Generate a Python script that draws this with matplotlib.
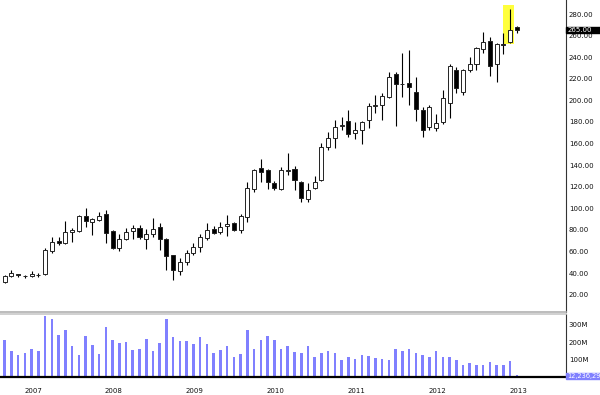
import matplotlib
matplotlib.use("Agg")
import matplotlib.pyplot as plt
import matplotlib.transforms as mtransforms
from matplotlib.patches import Rectangle
import pandas as pd

# monthly candles, Sep 2006 .. Jan 2013
months = pd.date_range("2006-09-01", periods=77, freq="MS")

opens = [31.5, 37.5, 39, 37, 37, 38.5, 39, 60, 69.5, 68,
         78, 78.5, 93, 87, 89.5, 94.5, 79, 63, 71.5, 78.5,
         81.5, 71.5, 76, 83, 71.5, 56.5, 42, 50.5, 58.5, 64,
         72.5, 80.5, 78, 84, 86, 80, 92, 118, 137, 135.5,
         123, 118, 134.5, 136.5, 124, 109, 118.5, 126, 156.5, 165,
         176, 181, 169.5, 173, 182, 195, 195.5, 203.5, 224, 215,
         216, 208, 191, 175, 174, 180, 197.5, 228, 208, 228,
         234, 247.6, 255, 234, 252, 254.5, 268]
highs = [38, 42.5, 39.5, 38, 42, 40, 63.5, 73, 73.7, 88.5,
         81.5, 93.5, 100, 91, 97, 98.5, 80, 76, 82, 84.5,
         84.5, 81, 90.7, 86, 72.5, 57, 53.7, 61.4, 67.6, 76,
         86, 83.6, 87.6, 93.8, 87.6, 94.7, 124.7, 136, 145.4, 136,
         125.3, 138.6, 151, 139.5, 125.3, 123, 130, 160.8, 171, 182,
         185, 191, 180, 181, 197.3, 205, 206.6, 226.6, 226.6, 243.6,
         246.7, 222, 194, 195.7, 187.3, 209.6, 233.4, 231, 229, 240.5,
         249.8, 263.7, 259, 253, 262, 284.4, 269]
lows = [30.5, 36.5, 36.5, 35.7, 36, 36.5, 38.5, 58.3, 66, 67,
        69, 78, 83, 75.5, 88.5, 68, 62.5, 60, 70.6, 71.5,
        72, 62.3, 73.7, 61.3, 42.8, 33.5, 38, 47.5, 56.7, 59.8,
        70.6, 76, 76, 74.6, 79, 77.4, 87.6, 115.4, 124.7, 117.6,
        117, 117, 131, 117, 105.6, 105.6, 117.6, 125.3, 154, 156,
        172.6, 166.4, 164, 160, 174.7, 188, 182, 202.5, 176.6, 203.4,
        195.7, 181, 166.4, 173, 171.6, 178.5, 183.4, 206.6, 205, 226,
        228, 243.6, 222.6, 217.3, 242.7, 253, 262.7]
closes = [37, 40.3, 38.3, 37.3, 39.5, 38, 61, 68.5, 67.6, 78,
          80, 93, 88.5, 90.5, 92.5, 77, 63.5, 71.3, 78, 81.5,
          73, 76, 81, 72, 56, 43, 50.5, 58.3, 64.4, 73.7,
          80, 77.5, 82.4, 85, 80, 93, 118.5, 135.5, 134, 124.7,
          118.5, 135.5, 135.5, 126.2, 109.3, 117, 124, 157, 165, 175,
          177, 168.6, 173, 180.3, 195, 196, 204, 222, 215, 215.5,
          212.5, 192, 172.6, 194, 179.3, 202, 232, 211, 228, 233.4,
          248.3, 253.8, 232, 252.3, 251, 265, 265]
volume_m = [213, 152, 126, 137, 164, 149, 350, 331, 244, 270,
            179, 129, 236, 183, 133, 289, 213, 198, 202, 156,
            160, 221, 152, 198, 335, 232, 209, 209, 190, 232,
            190, 141, 156, 179, 118, 133, 270, 164, 213, 236,
            213, 164, 179, 145, 137, 179, 118, 141, 149, 137,
            99, 118, 103, 126, 122, 110, 103, 99, 160, 149,
            164, 141, 129, 118, 152, 118, 118, 99, 72, 83,
            68, 68, 87, 72, 68, 91, 12.24]

price_ticks = list(range(20, 281, 20))
vol_ticks = [100, 200, 300]
last_price = 265.00
last_volume = "12,236,29"
highlight = len(opens) - 2  # Dec 2012 candle

fig = plt.figure(figsize=(6, 3.95), dpi=100)
ax = fig.add_axes([0, 0.2101, 0.9433, 0.7899])
axv = fig.add_axes([0, 0.0448, 0.9433, 0.1603])

x = list(range(len(opens)))
xlim = (-0.70, 83.28)
txt = "#111111"

# price panel
ax.add_patch(Rectangle((highlight - 1.0, 252), 1.6, 36.4, color="#ffff3c",
                       lw=0, zorder=1))
ax.vlines(x, lows, highs, color="black", lw=0.8, zorder=2)
bottoms = [min(o, c) for o, c in zip(opens, closes)]
heights = [max(abs(c - o), 0.5) for o, c in zip(opens, closes)]
faces = ["white" if c >= o else "black" for o, c in zip(opens, closes)]
ax.bar(x, heights, 0.6, bottom=bottoms, color=faces, edgecolor="#222222",
       lw=0.7, zorder=3)

ax.set_xlim(*xlim)
ax.set_ylim(3.9, 293)
ax.set_xticks([])
ax.yaxis.tick_right()
ax.set_yticks(price_ticks)
ax.set_yticklabels(["%.2f" % p for p in price_ticks])
ax.tick_params(axis="y", length=0, pad=2, labelsize=5, labelcolor=txt)
for s in ["left", "top"]:
    ax.spines[s].set_visible(False)
ax.spines["right"].set_color("#333333")
ax.spines["bottom"].set_color("#b0b0b0")
ax.spines["bottom"].set_linewidth(1.2)

# last price tag
tr = mtransforms.blended_transform_factory(ax.transAxes, ax.transData)
ax.add_patch(Rectangle((1.0, last_price - 2.8), 0.07, 5.6, transform=tr,
                       color="black", clip_on=False, zorder=5))
ax.text(1.003, last_price, "%.2f" % last_price, transform=tr, color="white",
        fontsize=5, va="center", ha="left", zorder=6, clip_on=False)

# volume panel
axv.bar(x, volume_m, 0.38, color="#8080ff", zorder=2)
axv.set_xlim(*xlim)
axv.set_ylim(0, 362)
axv.yaxis.tick_right()
axv.set_yticks(vol_ticks)
axv.set_yticklabels(["%dM" % v for v in vol_ticks])
axv.tick_params(axis="y", length=0, pad=2, labelsize=5, labelcolor=txt)
years = [(j, m.year) for j, m in enumerate(months) if m.month == 1]
axv.set_xticks([j + 0.2 for j, _ in years])
axv.set_xticklabels([str(y) for _, y in years])
axv.tick_params(axis="x", length=0, pad=8, labelsize=5, labelcolor=txt)
axv.spines["left"].set_visible(False)
axv.spines["top"].set_color("#c8c8c8")
axv.spines["top"].set_linewidth(1.2)
axv.spines["right"].set_color("#333333")
axv.spines["bottom"].set_color("black")
axv.spines["bottom"].set_linewidth(1.6)

trv = mtransforms.blended_transform_factory(axv.transAxes, axv.transData)
axv.add_patch(Rectangle((1.0, -11), 0.07, 34, transform=trv, color="#8080ff",
                        clip_on=False, zorder=5))
axv.text(1.002, 6, last_volume, transform=trv, color="white", fontsize=4.8,
         va="center", ha="left", zorder=6, clip_on=False)

plt.savefig("out.png", dpi=100)
